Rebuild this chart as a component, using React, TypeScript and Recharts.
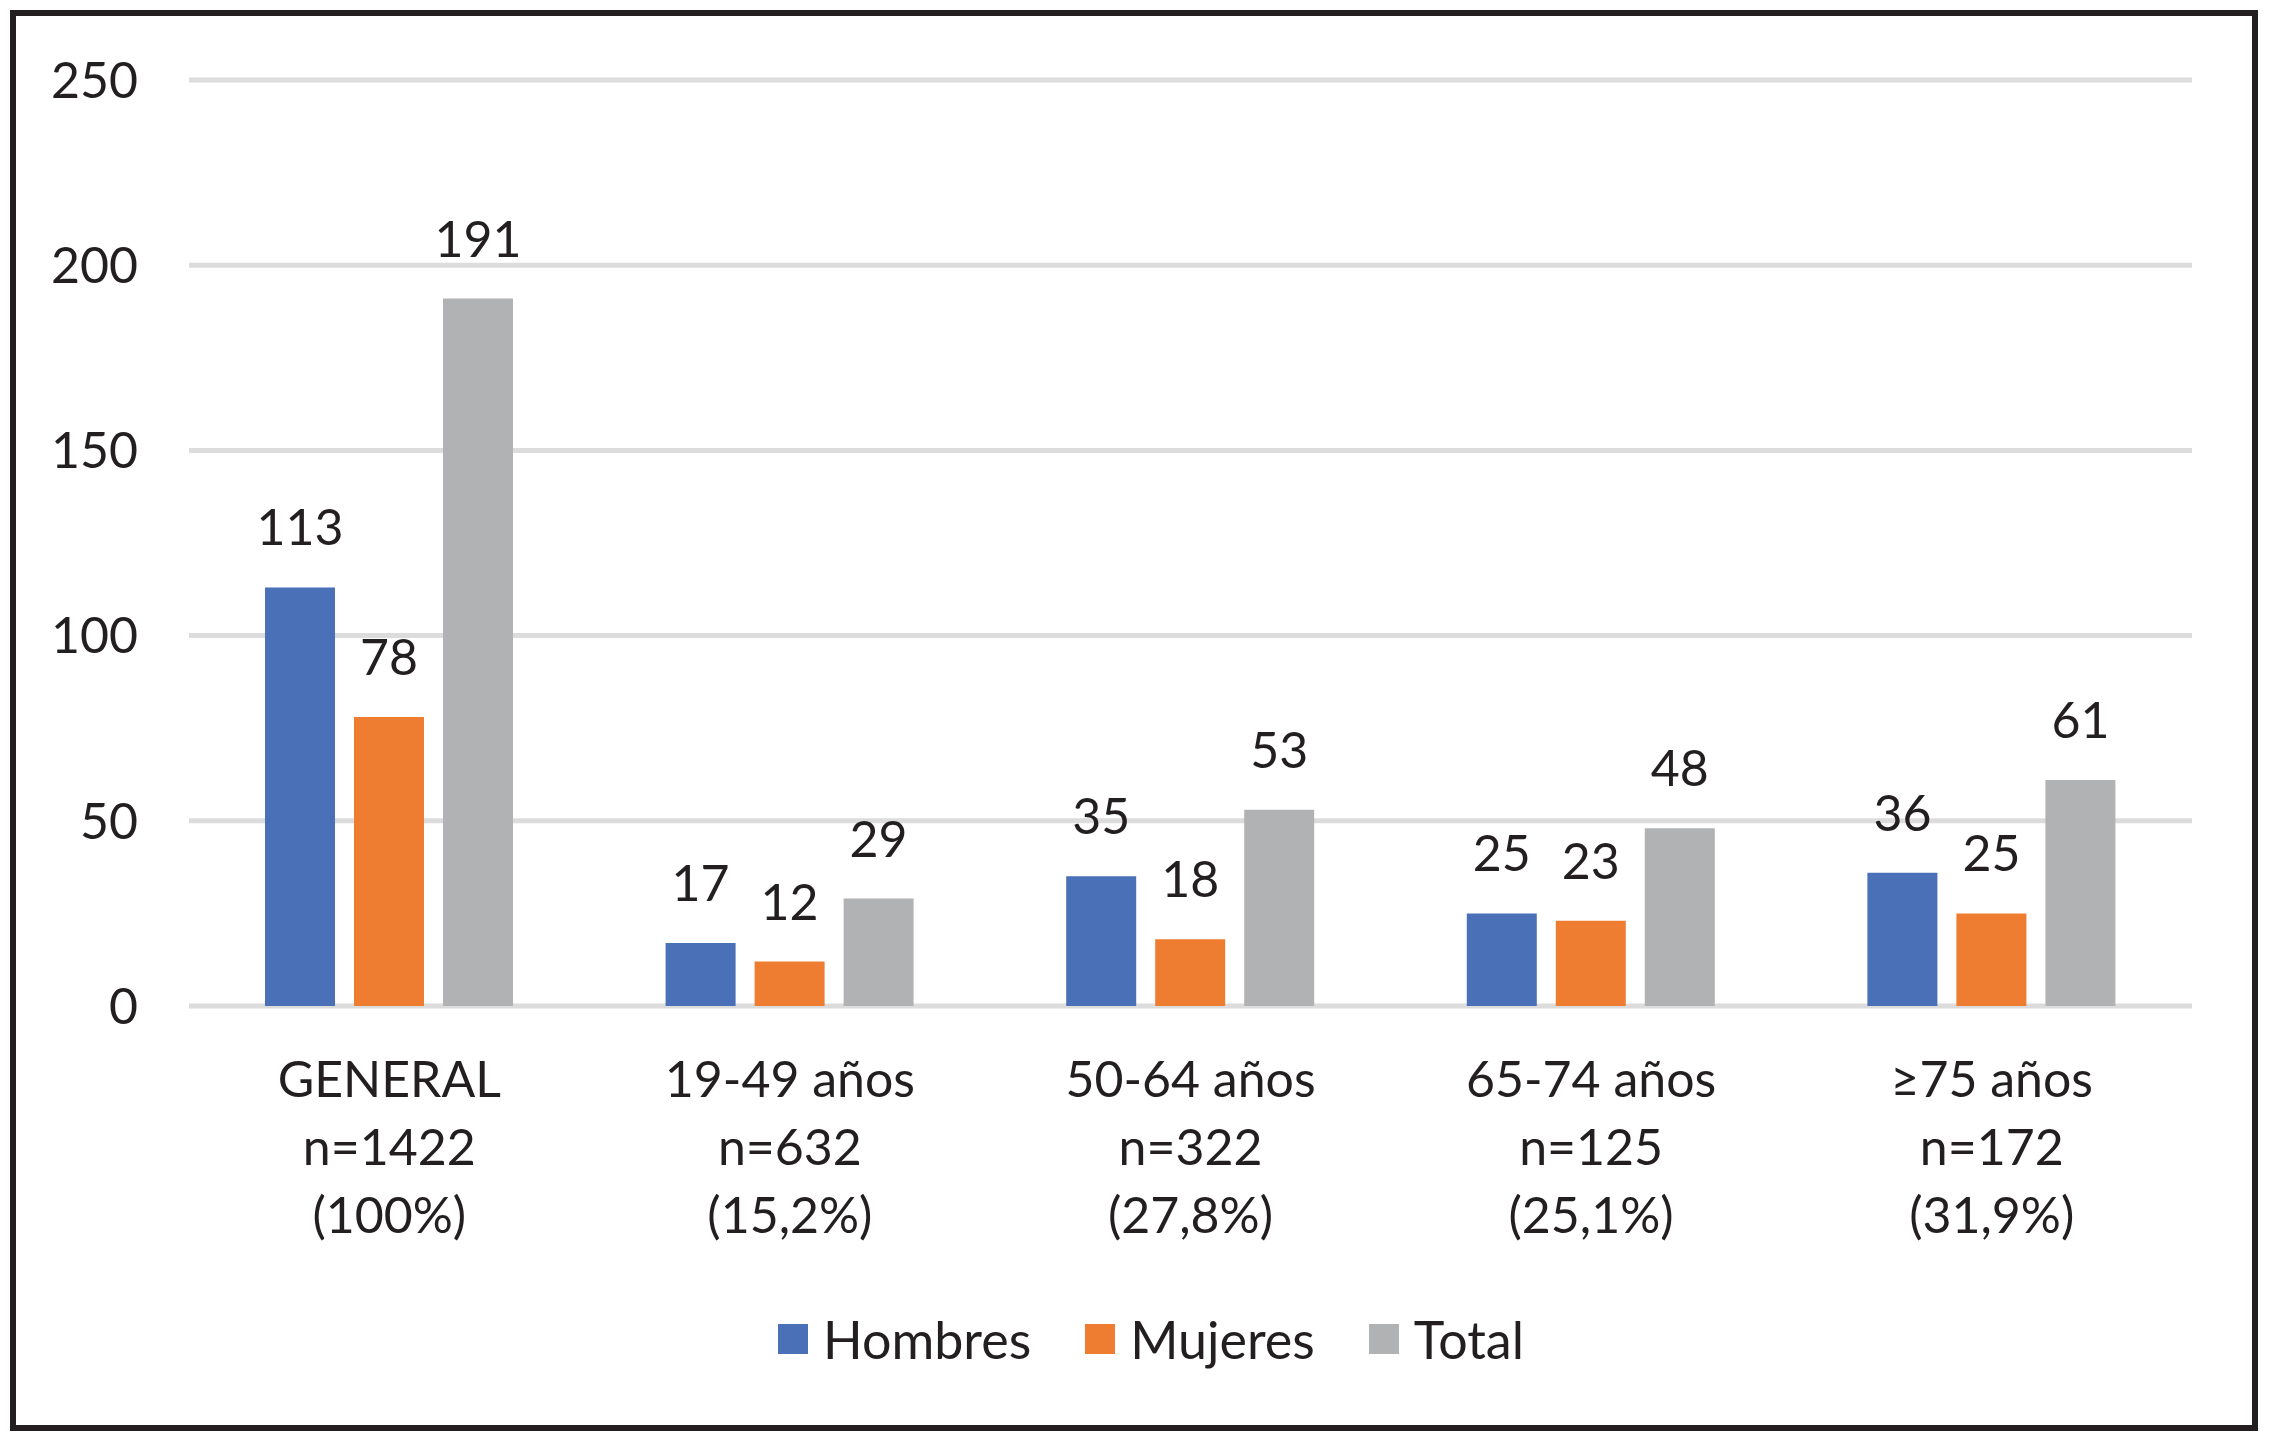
import React from "react";
import { BarChart, Bar, XAxis, YAxis, CartesianGrid, LabelList, Legend } from "recharts";

const categories = ["GENERAL", "19-49 años", "50-64 años", "65-74 años", "≥75 años"];
const sampleSizes = ["n=1422", "n=632", "n=322", "n=125", "n=172"];
const shares = ["(100%)", "(15,2%)", "(27,8%)", "(25,1%)", "(31,9%)"];
const hombres = [113, 17, 35, 25, 36];
const mujeres = [78, 12, 18, 23, 25];
const total = [191, 29, 53, 48, 61];
const yTicks = [0, 50, 100, 150, 200, 250];

const series = [
  { key: "Hombres", color: "#4A71B7" },
  { key: "Mujeres", color: "#EE7D32" },
  { key: "Total", color: "#B1B2B4" },
];

const data = categories.map((c, i) => ({
  name: c,
  n: sampleSizes[i],
  pct: shares[i],
  Hombres: hombres[i],
  Mujeres: mujeres[i],
  Total: total[i],
}));

const FONT = "Lato, 'Open Sans', sans-serif";
const TEXT = "#231F20";

const CategoryTick = (props: any) => {
  const { x, y, payload, index } = props;
  const i = typeof index === "number" ? index : categories.indexOf(payload.value);
  const lines = [payload.value, sampleSizes[i], shares[i]];
  return (
    <text x={x} y={y} textAnchor="middle" fill={TEXT} fontSize={50} fontFamily={FONT}>
      {lines.map((l, k) => (
        <tspan key={k} x={x} y={y + 91 + k * 68}>
          {l}
        </tspan>
      ))}
    </text>
  );
};

const renderLegend = (props: any) => {
  const { payload } = props;
  return (
    <div style={{ display: "flex", justifyContent: "center", alignItems: "center", height: 60 }}>
      {payload.map((p: any, i: number) => (
        <div key={i} style={{ display: "flex", alignItems: "center", marginLeft: i === 0 ? 0 : 54 }}>
          <div style={{ width: 30, height: 30, background: p.color, marginRight: 15 }} />
          <span style={{ fontFamily: FONT, fontSize: 52, color: TEXT, lineHeight: "60px" }}>{p.value}</span>
        </div>
      ))}
    </div>
  );
};

export default function App() {
  return (
    <div style={{ position: "absolute", left: 0, top: 0, width: 2274, height: 1444, background: "#fff" }}>
      <div
        style={{
          position: "absolute",
          left: 10,
          top: 10,
          width: 2248,
          height: 1421,
          border: "6px solid #231F20",
          boxSizing: "border-box",
        }}
      />
      <div style={{ position: "absolute", left: 0, top: 0 }}>
        <BarChart
          width={2274}
          height={1444}
          data={data}
          margin={{ top: 80, right: 82, bottom: 238, left: 0 }}
          barSize={70}
          barGap={19}
        >
          <CartesianGrid vertical={false} stroke="#DCDCDC" strokeWidth={5} />
          <XAxis
            dataKey="name"
            axisLine={false}
            tickLine={false}
            tickSize={0}
            tickMargin={0}
            height={200}
            interval={0}
            tick={<CategoryTick />}
          />
          <YAxis
            domain={[0, 250]}
            ticks={yTicks}
            axisLine={false}
            tickLine={false}
            tickSize={0}
            tickMargin={51}
            width={189}
            tick={{ fontSize: 50, fill: TEXT, fontFamily: FONT }}
          />
          <Legend
            layout="horizontal"
            verticalAlign="middle"
            align="center"
            content={renderLegend}
            wrapperStyle={{ position: "absolute", left: 14, top: 1309, width: 2274, height: 60 }}
          />
          {series.map((s) => (
            <Bar key={s.key} dataKey={s.key} fill={s.color} isAnimationActive={false}>
              <LabelList
                dataKey={s.key}
                position="top"
                offset={42}
                fill={TEXT}
                fontSize={50}
                fontFamily={FONT}
              />
            </Bar>
          ))}
        </BarChart>
      </div>
    </div>
  );
}
